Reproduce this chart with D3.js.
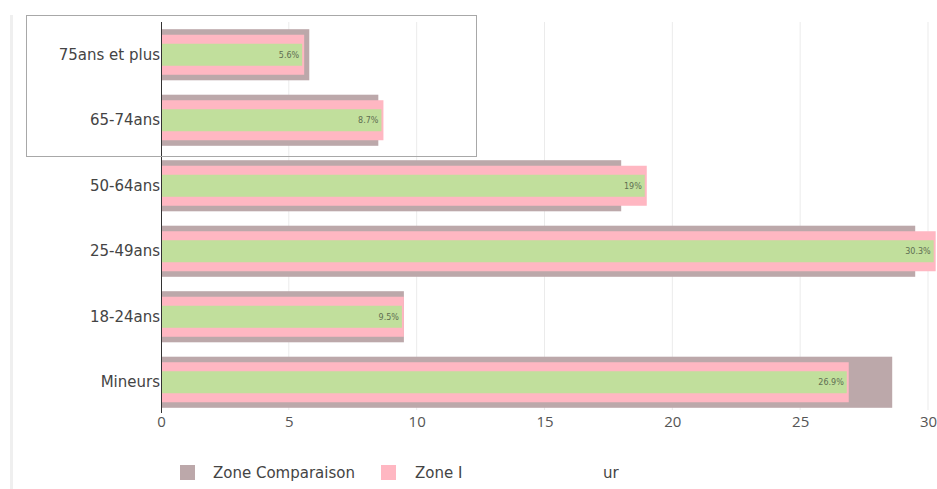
<!DOCTYPE html>
<html><head><meta charset="utf-8">
<script src="https://cdn.jsdelivr.net/npm/d3@7"></script>
<style>
body{margin:0;background:#fff;font-family:"DejaVu Sans",sans-serif;}
</style></head>
<body><svg id="c" width="937" height="489"></svg>
<script>
const categories = ["75ans et plus","65-74ans","50-64ans","25-49ans","18-24ans","Mineurs"];
const comparaison = [5.8, 8.5, 18.0, 29.5, 9.5, 28.6];
const zoneEtude = [5.6, 8.7, 19, 30.3, 9.5, 26.9];
const valueLabels = ["5.6%","8.7%","19%","30.3%","9.5%","26.9%"];
const xTicks = [0,5,10,15,20,25,30];
const legendLabels = ["Zone Comparaison","Zone I","ur"];

const svg = d3.select("#c");
const x = d3.scaleLinear().domain([0,30]).range([161,928]);
const y = d3.scaleBand().domain(categories).range([22,415]).paddingInner(0.22).paddingOuter(0.11);

// left page border
svg.append("rect").attr("x",10).attr("y",15).attr("width",3).attr("height",474).attr("fill","#efefef");

// grid
svg.append("g").selectAll("line").data(xTicks.slice(1)).join("line")
  .attr("x1",d=>x(d)).attr("x2",d=>x(d)).attr("y1",22).attr("y2",410)
  .attr("stroke","#ebebeb").attr("stroke-width",1);

const cy = c => y(c) + y.bandwidth()/2;
const gH = y.bandwidth(), pH = 40, vH = 22;

svg.append("g").selectAll("rect").data(categories).join("rect")
  .attr("x",x(0)).attr("y",c=>cy(c)-gH/2).attr("height",gH)
  .attr("width",(c,i)=>x(comparaison[i])-x(0)).attr("fill","#bca8aa");
svg.append("g").selectAll("rect").data(categories).join("rect")
  .attr("x",x(0)).attr("y",c=>cy(c)-pH/2).attr("height",pH)
  .attr("width",(c,i)=>x(zoneEtude[i])-x(0)).attr("fill","#ffb7c2");
svg.append("g").selectAll("rect").data(categories).join("rect")
  .attr("x",x(0)).attr("y",c=>cy(c)-vH/2).attr("height",vH)
  .attr("width",(c,i)=>x(zoneEtude[i])-x(0)-2).attr("fill","#c1df9c");

svg.append("g").selectAll("text").data(categories).join("text")
  .attr("x",(c,i)=>x(zoneEtude[i])-5).attr("y",c=>cy(c)+3)
  .attr("text-anchor","end").attr("font-size",8).attr("fill","#5f6e52")
  .attr("font-family","DejaVu Sans, sans-serif")
  .text((c,i)=>valueLabels[i]);

// y axis
const yAxis = svg.append("g").attr("transform",`translate(${x(0)},0)`)
  .call(d3.axisLeft(y).tickSize(0).tickPadding(1));
yAxis.select(".domain").remove();
yAxis.selectAll("text").attr("font-size",15).attr("fill","#444").attr("font-family","DejaVu Sans, sans-serif");
svg.append("line").attr("x1",x(0)+0.5).attr("x2",x(0)+0.5).attr("y1",22).attr("y2",413)
  .attr("stroke","#333").attr("stroke-width",1);

// x axis
const xAxis = svg.append("g").attr("transform","translate(0,412)")
  .call(d3.axisBottom(x).tickValues(xTicks).tickSize(0).tickPadding(4).tickFormat(d3.format("d")));
xAxis.select(".domain").remove();
xAxis.selectAll("text").attr("font-size",15).attr("fill","#555").attr("font-family","Open Sans, sans-serif");

// frame overlay
svg.append("rect").attr("x",26.5).attr("y",15.5).attr("width",450).attr("height",141)
  .attr("fill","none").attr("stroke","#a8a8a8").attr("stroke-width",1);

// legend
const lg = svg.append("g").attr("font-size",15).attr("fill","#444").attr("font-family","DejaVu Sans, sans-serif");
lg.append("rect").attr("x",180).attr("y",465).attr("width",15).attr("height",15).attr("fill","#bca8aa");
lg.append("text").attr("x",213).attr("y",478).text(legendLabels[0]);
lg.append("rect").attr("x",381).attr("y",465).attr("width",15).attr("height",15).attr("fill","#ffb7c2");
lg.append("text").attr("x",415).attr("y",478).text(legendLabels[1]);
lg.append("text").attr("x",603).attr("y",478).text(legendLabels[2]);
</script></body></html>
